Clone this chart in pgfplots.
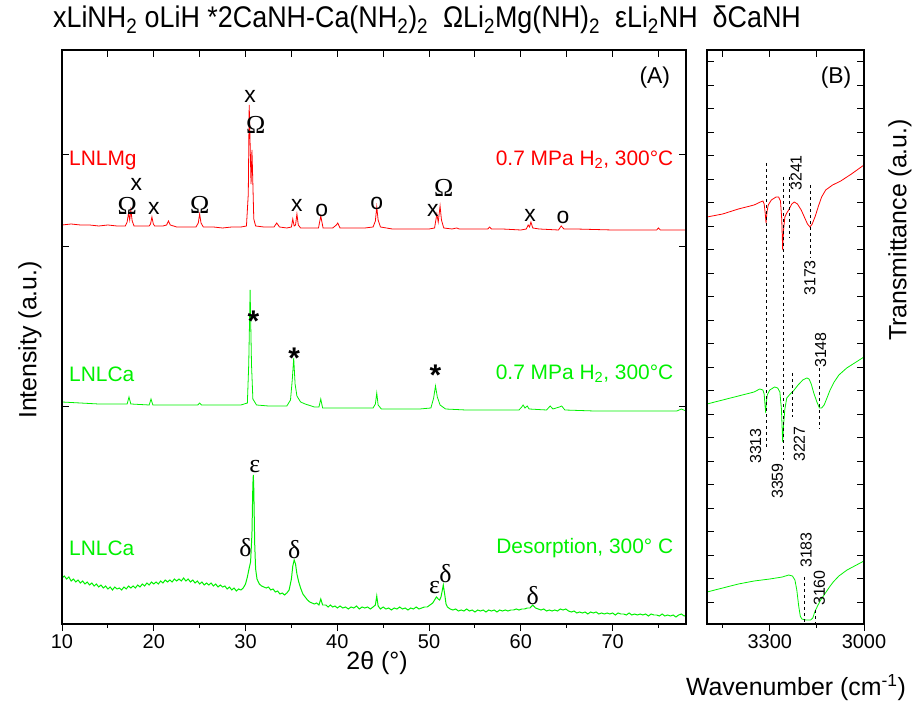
\documentclass[border=0pt]{standalone}
\usepackage{pgfplots}
\pgfplotsset{compat=1.18}
\usepackage{fontspec}
\setmainfont{Liberation Sans}
\newfontfamily\serifg{Liberation Serif}
\usepackage{graphicx}
\newcommand{\fs}[1]{\fontsize{#1}{#1}\selectfont}
\newcommand{\mk}[1]{{\fs{23}#1}}
\newcommand{\gk}[1]{{\serifg\fs{26}#1}}
\newcommand{\st}{{\fs{30}\bfseries *}}
\definecolor{xr}{RGB}{255,0,0}
\definecolor{xg}{RGB}{0,240,0}
\pgfplotsset{
 Abase/.style={at={(62bp,81bp)}, anchor=south west, scale only axis, width=624bp, height=574bp,
   xmin=10, xmax=78, ymin=0, ymax=574, axis line style={line width=1.1pt}, clip=false,
   tick style={line width=0.9pt, black}, major tick length=7bp, minor tick length=4bp,
   /pgf/number format/assume math mode=true},
 Bbase/.style={at={(707bp,81bp)}, anchor=south west, scale only axis, width=157bp, height=574bp,
   xmin=3000, xmax=3500, x dir=reverse, ymin=0, ymax=574, axis line style={line width=1.1pt}, clip=false,
   tick style={line width=0.9pt, black}, major tick length=7bp, minor tick length=4bp,
   /pgf/number format/assume math mode=true},
}
\begin{document}
\begin{tikzpicture}
\useasboundingbox (0,0) rectangle (918bp,705bp);
% ---------------- Panel A ----------------
\begin{axis}[Abase, xtick={10,20,...,70}, minor xtick={15,25,...,75}, xtick pos=bottom, tick align=outside,
  ytick=\empty, xticklabel style={font=\fs{20}},
  xticklabel={\pgfmathprintnumber[fixed,precision=0]{\tick}}]
% LNLMg (red)
\addplot[xr, line width=0.8pt] coordinates {
(10,399)(11,400)(12,399)(13,399)(14,398)(15,399)(16,398)(16.9,398)(17.1,402)(17.25,411)(17.38,404)(17.5,414)(17.65,403)(17.85,398)
(18.5,398)(19.5,398)(19.65,400)(19.8,407)(19.95,400)(20.1,398)(21.0,398)(21.4,399)(21.6,403)(21.8,399)(22.5,397)(23.5,397)
(24.6,397)(24.85,401)(25.0,410)(25.15,401)(25.4,397)(26.5,397)(27.5,396)(28.5,397)(29.5,397)(30.1,398)(30.3,430)(30.4,519)
(30.5,480)(30.6,440)(30.7,474)(30.8,440)(30.9,405)(31.1,398)(32,397)(33.1,397)(33.4,401)(33.7,397)(34.5,396)(35.0,397)
(35.15,405)(35.3,398)(35.45,399)(35.6,410)(35.75,399)(36,396)(37,396)(37.95,396)(38.2,408)(38.45,396)(39.5,396)(39.9,399)
(40.05,401)(40.3,396)(41,396)(42,396)(43,396)(43.9,397)(44.15,403)(44.3,417)(44.45,404)(44.7,397)(46,395)(48,395)(49,395)
(50,395)(50.6,396)(50.85,410)(51.0,402)(51.2,418)(51.35,404)(51.6,396)(52.5,395)(53,396)(53.3,395)(55,395)(56.4,395)
(56.6,397)(56.8,395)(58,395)(60,394)(60.6,395)(60.8,399)(60.95,397)(61.1,402)(61.3,396)(62,395)(64.1,394)(64.4,398)
(64.7,395)(66,395)(70,394)(74.8,394)(75.0,396)(75.2,394)(78,394)};
% LNLCa, 0.7 MPa (green)
\addplot[xg, line width=0.8pt] coordinates {
(10,222)(12,221)(14,220)(16,220)(17.1,220)(17.3,227)(17.5,220)(19.5,219)(19.7,225)(19.9,219)(22,219)(24.8,219)(25.0,221)
(25.2,219)(28,219)(29.5,219)(30.2,221)(30.35,260)(30.5,334)(30.65,260)(30.8,225)(31.2,219)(32.5,218)(33.5,218)(34.5,218)
(34.9,224)(35.1,245)(35.25,266)(35.4,240)(35.6,228)(36.0,222)(36.5,220)(37.5,217)(38.0,217)(38.2,225)(38.4,216)(40,216)
(42,216)(43.9,216)(44.15,220)(44.3,231)(44.45,219)(44.8,215)(47,215)(49,215)(50.2,216)(50.5,226)(50.7,238)(50.9,227)
(51.2,219)(51.8,215)(54,214)(57,214)(59.8,214)(60.1,217)(60.25,219)(60.45,216)(60.7,218)(60.9,215)(62.8,214)(63.2,218)
(63.5,215)(64.2,217)(64.45,218)(64.8,214)(68,213)(72,213)(77,213)(77.5,215)(78,213)};
% LNLCa, desorption (green)
\addplot[xg, line width=1pt] coordinates {
(10.0,46)(10.25,48)(10.5,45)(10.75,47)(11.0,43)(11.25,45)(11.5,42)(11.75,44)(12.0,41)(12.25,43)(12.5,40)(12.75,42)
(13.0,39)(13.25,41)(13.5,38)(13.75,40)(14.0,37)(14.25,39)(14.5,36)(14.75,38)(15.0,35)(15.25,37)(15.5,34)(15.75,37)
(16.0,35)(16.25,36)(16.5,34)(16.75,37)(17.0,35)(17.25,38)(17.5,36)(17.75,38)(18.0,36)(18.25,39)(18.5,37)(18.75,40)
(19.0,38)(19.25,41)(19.5,39)(19.75,42)(20.0,40)(20.25,42)(20.5,40)(20.75,43)(21.0,41)(21.25,44)(21.5,42)(21.75,44)
(22.0,42)(22.25,45)(22.5,43)(22.75,45)(23.0,43)(23.25,46)(23.5,43)(23.75,45)(24.0,42)(24.25,44)(24.5,41)(24.75,43)
(25.0,40)(25.25,42)(25.5,39)(25.75,41)(26.0,39)(26.25,41)(26.5,38)(26.75,40)(27.0,37)(27.25,39)(27.5,37)(27.75,38)
(28.0,35)(28.25,37)(28.5,34)(28.75,36)(29.0,33)(29.25,35)(29.5,34)(29.75,36)(30.0,40)(30.2,47)(30.4,56)(30.55,62)
(30.7,90)(30.8,140)(30.85,149)(30.9,135)(31.0,80)(31.1,55)(31.25,45)(31.5,40)(31.75,38)(32.0,37)(32.25,36)(32.5,37)
(32.75,34)(33.0,35)(33.25,32)(33.5,33)(33.75,30)(34.0,31)(34.25,29)(34.5,31)(34.75,34)(35.0,45)(35.15,58)(35.3,64)
(35.45,60)(35.6,50)(35.8,42)(36.0,36)(36.25,30)(36.5,27)(36.75,24)(37.0,22)(37.25,21)(37.5,20)(37.75,21)(38.0,19)
(38.2,25)(38.4,19)(38.75,19)(39.0,17)(39.25,19)(39.5,17)(39.75,18)(40.0,16)(40.3,18)(40.6,16)(40.9,17)(41.2,15)
(41.5,17)(41.8,16)(42.1,18)(42.4,15)(42.7,17)(43.0,16)(43.3,17)(43.6,15)(43.9,17)(44.15,19)(44.3,28)(44.45,18)
(44.7,15)(45.0,17)(45.3,15)(45.6,16)(45.9,14)(46.2,16)(46.5,15)(46.8,17)(47.1,15)(47.4,16)(47.7,14)(48.0,16)
(48.3,15)(48.6,17)(48.9,15)(49.2,16)(49.5,17)(49.8,17)(50.1,19)(50.4,21)(50.6,24)(50.8,27)(51.0,25)(51.15,24)
(51.3,27)(51.45,34)(51.55,39)(51.7,30)(51.85,20)(52.0,17)(52.3,15)(52.6,14)(52.9,15)(53.2,13)(53.5,14)(53.8,13)
(54.1,15)(54.4,13)(54.7,14)(55.0,12)(55.3,14)(55.6,13)(55.9,14)(56.2,12)(56.5,14)(56.8,13)(57.1,14)(57.4,12)
(57.7,14)(58.0,13)(58.3,14)(58.6,13)(58.9,14)(59.2,14)(59.5,15)(59.8,14)(60.1,15)(60.4,15)(60.7,16)(61.0,16)
(61.3,19)(61.6,16)(61.9,15)(62.2,14)(62.5,15)(62.8,13)(63.1,14)(63.4,13)(63.7,14)(64.0,13)(64.3,15)(64.6,14)
(64.9,15)(65.2,13)(65.5,12)(65.8,13)(66.1,11)(66.4,12)(66.7,11)(67.0,12)(67.3,10)(67.6,12)(67.9,11)(68.2,12)
(68.5,10)(68.8,11)(69.1,10)(69.4,11)(69.7,10)(70.0,11)(70.3,9)(70.6,11)(70.9,10)(71.2,10)(71.5,9)(71.8,11)
(72.1,9)(72.4,10)(72.7,9)(73.0,10)(73.3,9)(73.6,10)(73.9,8)(74.2,10)(74.5,9)(74.8,9)(75.1,8)(75.4,10)
(75.7,8)(76.0,9)(76.3,8)(76.6,9)(76.9,7)(77.2,9)(77.5,10)(77.8,8)(78.0,9)};
% labels red
\node[xr, anchor=west] at (axis cs:10.4,464) {\fs{21}LNLMg};
\node[xr, anchor=east] at (axis cs:77,464) {\fs{21}0.7 MPa H\textsubscript{2}, 300°C};
\node at (axis cs:17.1,418) {\gk{Ω}};
\node at (axis cs:18.1,440) {\mk{x}};
\node at (axis cs:20.0,416) {\mk{x}};
\node at (axis cs:25.0,419) {\gk{Ω}};
\node at (axis cs:30.5,528) {\mk{x}};
\node at (axis cs:31.1,499) {\gk{Ω}};
\node at (axis cs:35.6,419) {\mk{x}};
\node at (axis cs:38.3,414) {\mk{o}};
\node at (axis cs:44.3,421) {\mk{o}};
\node at (axis cs:50.4,414) {\mk{x}};
\node at (axis cs:51.6,436) {\gk{Ω}};
\node at (axis cs:61.0,409) {\mk{x}};
\node at (axis cs:64.6,407) {\mk{o}};
% labels middle
\node[xg, anchor=west] at (axis cs:10.4,250) {\fs{21}LNLCa};
\node[xg, anchor=east] at (axis cs:77,250) {\fs{21}0.7 MPa H\textsubscript{2}, 300°C};
\node at (axis cs:30.85,303) {\st};
\node at (axis cs:35.3,266) {\st};
\node at (axis cs:50.7,249) {\st};
% labels bottom
\node[xg, anchor=west] at (axis cs:10.4,76) {\fs{21}LNLCa};
\node[xg, anchor=east] at (axis cs:77,76) {\fs{21}Desorption, 300° C};
\node at (axis cs:30.0,76) {\gk{δ}};
\node at (axis cs:31.0,157) {\gk{ε}};
\node at (axis cs:35.3,74) {\gk{δ}};
\node at (axis cs:50.6,36) {\gk{ε}};
\node at (axis cs:51.8,50) {\gk{δ}};
\node at (axis cs:61.3,28) {\gk{δ}};
\node at (axis cs:74.6,546) {\fs{23}(A)};
\end{axis}
\begin{axis}[Abase, xtick={10,15,...,75}, xtick pos=top, tick align=inside, xticklabels={},
  ytick={218,378,470}, ytick pos=both, yticklabels={}]
\end{axis}
% ---------------- Panel B ----------------
\begin{axis}[Bbase, xtick={3000,3300}, minor xtick={3150,3450}, xtick pos=bottom, tick align=outside,
  ytick=\empty, xticklabel style={font=\fs{20}},
  xticklabel={\pgfmathprintnumber[fixed,precision=0,1000 sep={}]{\tick}}]
\addplot[xr, line width=0.8pt] coordinates {
(3500,407)(3450,410)(3400,415)(3350,419)(3330,422)(3322,423)(3318,420)(3315,412)(3312,401)(3309,412)(3305,419)
(3295,424)(3280,427)(3272,427)(3266,423)(3262,405)(3259,374)(3256,395)(3252,407)(3246,411)(3240,414)(3230,420)
(3222,422)(3212,420)(3200,414)(3190,407)(3180,400)(3172,397)(3165,400)(3155,408)(3145,418)(3135,427)(3122,434)
(3100,439)(3074,443)(3040,450)(3000,459)};
\addplot[xg, line width=0.8pt] coordinates {
(3500,220)(3450,224)(3400,228)(3350,232)(3332,235)(3322,234)(3318,230)(3315,218)(3313,211)(3311,222)(3308,229)
(3300,234)(3285,237)(3275,236)(3268,232)(3263,215)(3259,182)(3256,200)(3252,215)(3246,226)(3235,230)(3225,233)
(3210,239)(3195,244)(3182,246)(3175,245)(3168,240)(3160,231)(3150,222)(3142,216)(3135,216)(3127,219)(3118,226)
(3108,234)(3095,242)(3080,249)(3055,256)(3030,261)(3000,267)};
\addplot[xg, line width=0.8pt] coordinates {
(3500,32)(3450,36)(3400,40)(3350,43)(3300,45)(3260,47)(3240,49)(3228,48)(3220,44)(3214,34)(3208,18)(3203,8)
(3198,5)(3185,4)(3170,4)(3163,6)(3157,12)(3148,18)(3138,24)(3125,30)(3110,37)(3098,42)(3080,48)(3054,54)
(3030,58)(3000,63)};
% dashed marker lines
\addplot[black, dashed, line width=0.5pt] coordinates {(3310,461)(3310,177)};
\addplot[black, dashed, line width=0.5pt] coordinates {(3257,447)(3257,164)};
\addplot[black, dashed, line width=0.5pt] coordinates {(3239,447)(3239,386)};
\addplot[black, dashed, line width=0.5pt] coordinates {(3172,439)(3172,367)};
\addplot[black, dashed, line width=0.5pt] coordinates {(3228,251)(3228,207)};
\addplot[black, dashed, line width=0.5pt] coordinates {(3143,256)(3143,196)};
\addplot[black, dashed, line width=0.5pt] coordinates {(3189,47)(3189,2)};
\addplot[black, dashed, line width=0.5pt] coordinates {(3154,14)(3154,2)};
\node[rotate=90] at (axis cs:3345,178) {\fs{16}3313};
\node[rotate=90] at (axis cs:3276,143) {\fs{16}3359};
\node[rotate=90] at (axis cs:3216,451) {\fs{16}3241};
\node[rotate=90] at (axis cs:3172,346) {\fs{16}3173};
\node[rotate=90] at (axis cs:3206,180) {\fs{16}3227};
\node[rotate=90] at (axis cs:3138,274) {\fs{16}3148};
\node[rotate=90] at (axis cs:3184,74) {\fs{16}3183};
\node[rotate=90] at (axis cs:3142,36) {\fs{16}3160};
\node at (axis cs:3089,546) {\fs{23}(B)};
\end{axis}
\begin{axis}[Bbase, xtick={3000,3150,3300,3450}, xtick pos=top, tick align=inside, xticklabels={},
  ytick={22,45.5,...,552}, ytick pos=both, yticklabels={}]
\end{axis}
% ---------------- outer texts ----------------
\node at (427bp,685bp) {\scalebox{0.9}[1]{\fs{30}xLiNH\textsubscript{2} oLiH *2CaNH-Ca(NH\textsubscript{2})\textsubscript{2}\ \ ΩLi\textsubscript{2}Mg(NH)\textsubscript{2}\ \ εLi\textsubscript{2}NH\ \ δCaNH}};
\node[rotate=90] at (30bp,365bp) {\fs{25}Intensity (a.u.)};
\node[rotate=90] at (900bp,475bp) {\fs{25}Transmittance (a.u.)};
\node at (377bp,42bp) {\fs{25}2θ (°)};
\node at (796bp,17bp) {\fs{25}Wavenumber (cm\textsuperscript{-1})};
\end{tikzpicture}
\end{document}
